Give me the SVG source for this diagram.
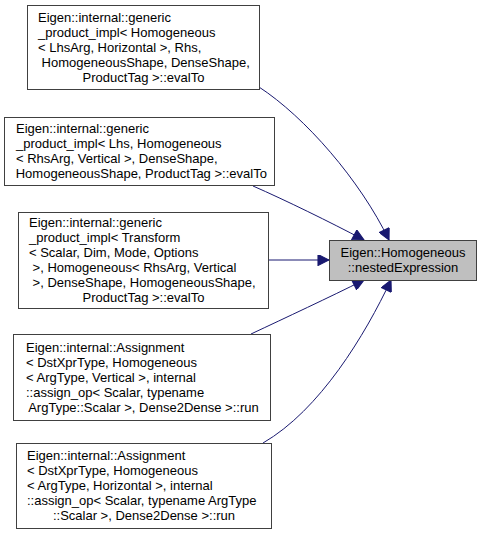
<svg xmlns="http://www.w3.org/2000/svg" width="481" height="535" viewBox="0 0 481 535">
<style>
.box{fill:#ffffff;stroke:#404040;stroke-width:1}
.tgt{fill:#bfbfbf;stroke:#404040;stroke-width:1}
text{font-family:"Liberation Sans",Arial,sans-serif;font-size:13px;fill:#000000}
.c{text-anchor:middle}
.e{fill:none;stroke:#191970;stroke-width:1}
</style>
<defs>
<marker id="ah" viewBox="0 0 10 10" refX="10" refY="5" markerWidth="13" markerHeight="11" markerUnits="userSpaceOnUse" orient="auto">
<path d="M0,0 L10,5 L0,10 Z" fill="#191970" stroke="#191970"/>
</marker>
</defs>
<rect width="481" height="535" fill="#ffffff"/>
<g id="edges">
<path class="e" d="M259,87 C305,117 360,180 389,240" marker-end="url(#ah)"/>
<path class="e" d="M253,186 C285,200 330,222 364,240" marker-end="url(#ah)"/>
<path class="e" d="M268,260 L329,260" marker-end="url(#ah)"/>
<path class="e" d="M251,334 C285,318 330,297 364,280" marker-end="url(#ah)"/>
<path class="e" d="M263,443 C320,410 365,335 391,280" marker-end="url(#ah)"/>
</g>
<g id="target">
<rect class="tgt" x="329.5" y="240.5" width="147" height="40"/>
<text class="c" x="403" y="257">Eigen::Homogeneous</text>
<text class="c" x="403" y="272">::nestedExpression</text>
</g>
<g id="n1">
<rect class="box" x="27.5" y="5.5" width="232" height="84"/>
<text x="38" y="21.5">Eigen::internal::generic</text>
<text x="38" y="36.5">_product_impl&lt; Homogeneous</text>
<text x="38" y="51.5">&lt; LhsArg, Horizontal &gt;, Rhs,</text>
<text x="38" y="66.5" xml:space="preserve"> HomogeneousShape, DenseShape,</text>
<text class="c" x="143.5" y="81.5">ProductTag &gt;::evalTo</text>
</g>
<g id="n2">
<rect class="box" x="4.5" y="117.5" width="270" height="68"/>
<text x="16" y="133">Eigen::internal::generic</text>
<text x="16" y="148">_product_impl&lt; Lhs, Homogeneous</text>
<text x="16" y="163">&lt; RhsArg, Vertical &gt;, DenseShape,</text>
<text class="c" x="139.5" y="178" xml:space="preserve"> HomogeneousShape, ProductTag &gt;::evalTo</text>
</g>
<g id="n3">
<rect class="box" x="18.5" y="212.5" width="250" height="96"/>
<text x="29" y="227">Eigen::internal::generic</text>
<text x="29" y="242">_product_impl&lt; Transform</text>
<text x="29" y="257">&lt; Scalar, Dim, Mode, Options</text>
<text x="29" y="272" xml:space="preserve"> &gt;, Homogeneous&lt; RhsArg, Vertical</text>
<text x="29" y="287" xml:space="preserve"> &gt;, DenseShape, HomogeneousShape,</text>
<text class="c" x="143.5" y="302">ProductTag &gt;::evalTo</text>
</g>
<g id="n4">
<rect class="box" x="13.5" y="334.5" width="257" height="86"/>
<text x="26" y="351.5">Eigen::internal::Assignment</text>
<text x="26" y="366.5">&lt; DstXprType, Homogeneous</text>
<text x="26" y="381.5">&lt; ArgType, Vertical &gt;, internal</text>
<text x="26" y="396.5">::assign_op&lt; Scalar, typename</text>
<text class="c" x="142" y="411.5" xml:space="preserve"> ArgType::Scalar &gt;, Dense2Dense &gt;::run</text>
</g>
<g id="n5">
<rect class="box" x="16.5" y="443.5" width="255" height="85"/>
<text x="27" y="460">Eigen::internal::Assignment</text>
<text x="27" y="475">&lt; DstXprType, Homogeneous</text>
<text x="27" y="490">&lt; ArgType, Horizontal &gt;, internal</text>
<text x="27" y="505">::assign_op&lt; Scalar, typename ArgType</text>
<text class="c" x="144" y="520">::Scalar &gt;, Dense2Dense &gt;::run</text>
</g>
</svg>
